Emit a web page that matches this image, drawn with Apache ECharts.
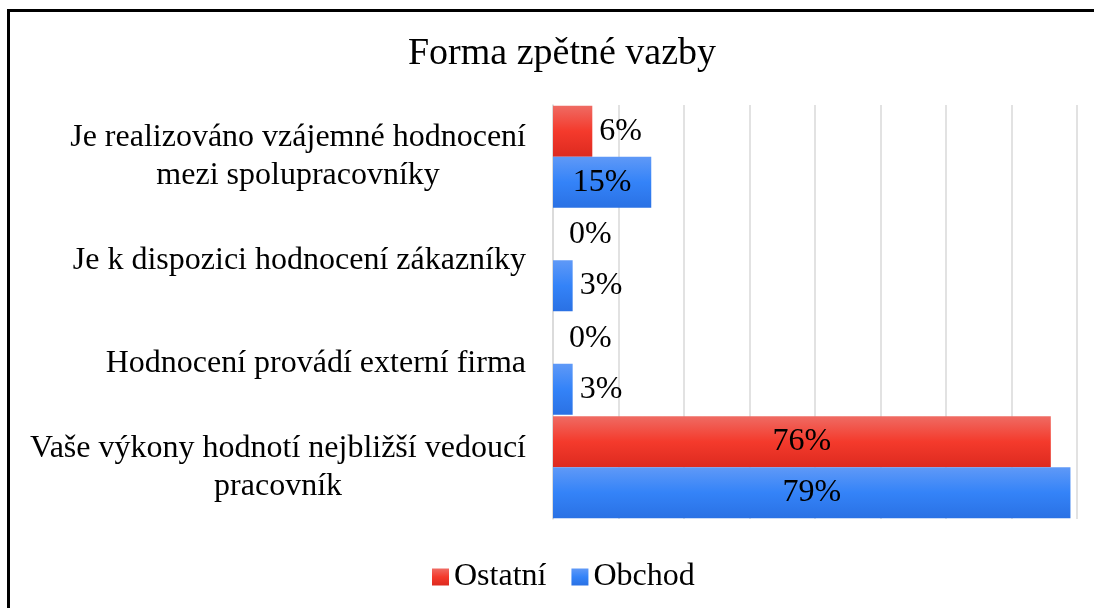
<!DOCTYPE html>
<html>
<head>
<meta charset="utf-8">
<script src="https://cdn.jsdelivr.net/npm/echarts@6/dist/echarts.min.js"></script>
<style>
html,body{margin:0;padding:0;background:#fff;}
#chart{width:1094px;height:608px;}
</style>
</head>
<body>
<div id="chart"></div>
<script>
const title = 'Forma zpětné vazby';
const categories = [
  'Je realizováno vzájemné hodnocení\nmezi spolupracovníky',
  'Je k dispozici hodnocení zákazníky',
  'Hodnocení provádí externí firma',
  'Vaše výkony hodnotí nejbližší vedoucí\npracovník'
];
const seriesNames = ['Ostatní', 'Obchod'];
const ostatni = [6, 0, 0, 76];
const obchod = [15, 3, 3, 79];

const FONT = '"Liberation Serif", "Times New Roman", serif';
const G = echarts.graphic;
const redGrad = new G.LinearGradient(0, 0, 0, 1, [
  {offset: 0, color: '#EF6B63'}, {offset: 0.5, color: '#F43A2C'}, {offset: 1, color: '#DD2A1F'}
]);
const blueGrad = new G.LinearGradient(0, 0, 0, 1, [
  {offset: 0, color: '#5F99F7'}, {offset: 0.5, color: '#3483F8'}, {offset: 1, color: '#2A71E4'}
]);

function items(vals) {
  return vals.map(v => {
    const inside = v >= 10;
    return {
      value: v,
      label: {
        position: inside ? 'inside' : 'right',
        distance: v === 0 ? 16 : 7
      }
    };
  });
}

const labelBase = {
  show: true,
  formatter: p => p.value + '%',
  color: '#000',
  fontFamily: FONT,
  fontSize: 32
};

const chart = echarts.init(document.getElementById('chart'), null, {renderer: 'canvas'});
chart.setOption({
  animation: false,
  backgroundColor: '#fff',
  title: {
    text: title,
    left: 557,
    textAlign: 'center',
    top: 30,
    textStyle: {fontFamily: FONT, fontSize: 38, fontWeight: 'normal', color: '#000'}
  },
  graphic: [{
    type: 'rect',
    shape: {x: 8.5, y: 10.5, width: 1200, height: 700},
    style: {fill: 'none', stroke: '#000', lineWidth: 3},
    silent: true,
    z: 100
  }],
  legend: {
    data: seriesNames,
    left: 427,
    top: 556,
    itemWidth: 17,
    itemHeight: 17,
    itemGap: 25,
    icon: 'rect',
    textStyle: {fontFamily: FONT, fontSize: 32, color: '#000', padding: [0, 0, 0, 0]}
  },
  grid: {left: 553, right: 17, top: 105, bottom: 89, containLabel: false},
  xAxis: {
    type: 'value',
    min: 0,
    max: 80,
    interval: 10,
    axisLabel: {show: false},
    axisLine: {show: false},
    axisTick: {show: false},
    splitLine: {show: true, lineStyle: {color: '#D9D9D9', width: 1.5}}
  },
  yAxis: {
    type: 'category',
    data: categories,
    inverse: true,
    axisTick: {show: false},
    axisLine: {show: true, lineStyle: {color: '#D9D9D9', width: 1.5}},
    axisLabel: {
      margin: 27,
      formatter: v => v.split('\n').map(s => '{c|' + s + '}').join('\n'),
      rich: {
        c: {align: 'center', fontFamily: FONT, fontSize: 32, lineHeight: 38, color: '#000'}
      }
    }
  },
  series: [
    {
      name: seriesNames[0],
      type: 'bar',
      data: items(ostatni),
      itemStyle: {color: redGrad},
      barGap: '0%',
      barCategoryGap: '1.5%',
      label: labelBase
    },
    {
      name: seriesNames[1],
      type: 'bar',
      data: items(obchod),
      itemStyle: {color: blueGrad},
      barGap: '0%',
      barCategoryGap: '1.5%',
      label: labelBase
    }
  ]
});
</script>
</body>
</html>
